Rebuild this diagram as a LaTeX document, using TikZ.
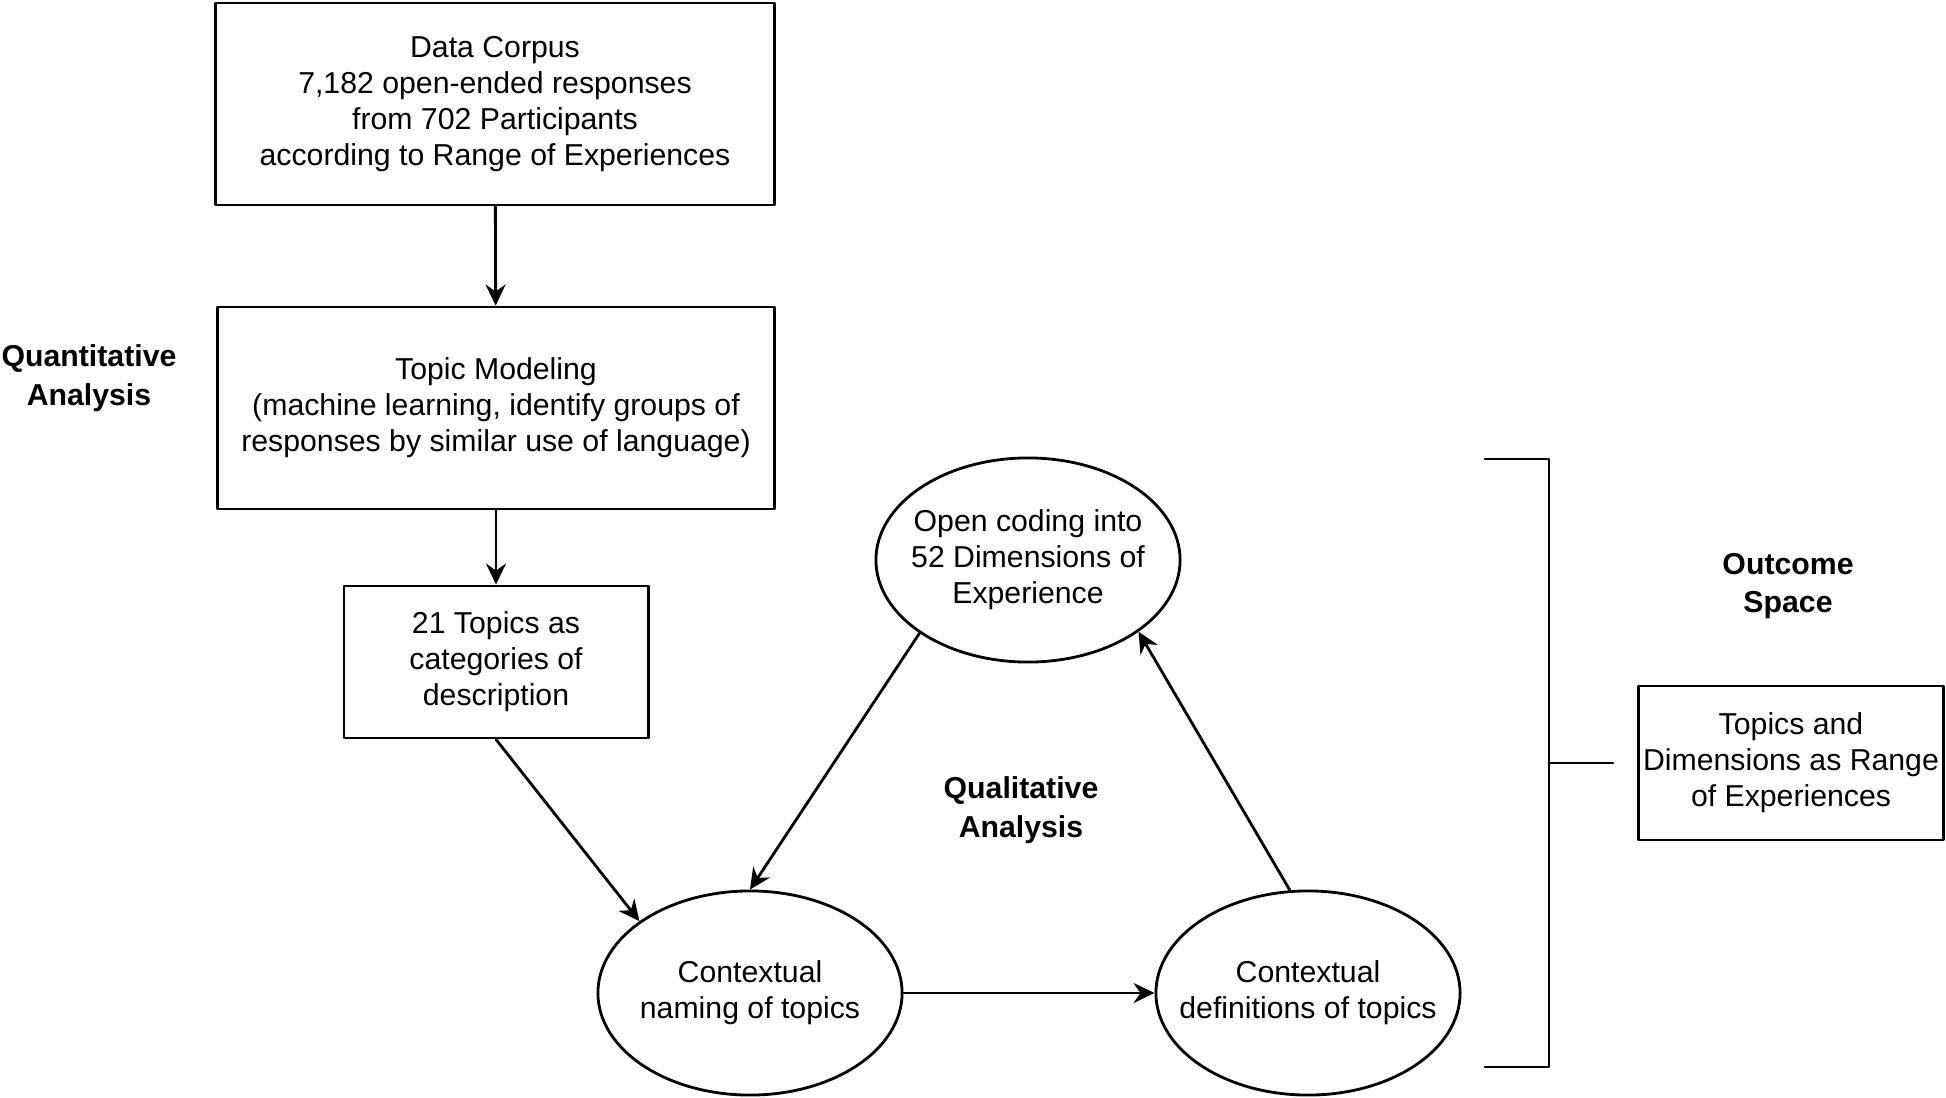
\documentclass[tikz,border=0pt]{standalone}
\usepackage{fontspec}
\setmainfont{Liberation Sans}
\usetikzlibrary{arrows.meta,shapes.geometric}

\begin{document}
\begin{tikzpicture}[line cap=round,line join=round,>={Stealth[length=2.1mm,width=2mm,inset=0.7mm]},x=0.01cm,y=-0.01cm,
		font=\fontsize{8.6}{10.2}\selectfont,
		boxnode/.style={draw,line width=0.8pt,align=center,inner sep=0pt},
		ovalnode/.style={draw,ellipse,line width=0.8pt,align=center,inner xsep=-0.35cm,inner ysep=0pt,minimum width=3.04cm,minimum height=2.04cm},
		headnode/.style={align=center,font=\fontsize{8.6}{11}\selectfont\bfseries},
		flow/.style={->,line width=0.8pt}]
	\useasboundingbox (0,0) rectangle (1946,1097);
		\node[boxnode,minimum width=5.58cm,minimum height=2.02cm] (corpus) at (495,104) {Data Corpus\\7,182 open-ended responses\\from 702 Participants\\according to Range of Experiences};
		\node[boxnode,minimum width=5.56cm,minimum height=2.02cm] (topicmod) at (496,408) {Topic Modeling\\(machine learning, identify groups of\\responses by similar use of language)};
		\node[boxnode,minimum width=3.04cm,minimum height=1.52cm] (topics) at (496,662) {21 Topics as\\categories of\\description};
		\node[ovalnode] (opencode) at (1028,560) {Open coding into\\52 Dimensions of\\Experience};
		\node[ovalnode] (naming) at (750,993) {Contextual\\naming of topics};
		\node[ovalnode] (defs) at (1308,993) {Contextual\\definitions of topics};
		\node[boxnode,minimum width=3.05cm,minimum height=1.54cm] (range) at (1791,763) {Topics and\\Dimensions as Range\\of Experiences};
		\node[headnode] (quant) at (89,378) {Quantitative\\Analysis};
		\node[headnode] (qual) at (1021,810) {Qualitative\\Analysis};
		\node[headnode] (outcome) at (1788,586) {Outcome\\Space};
	\draw[flow] (corpus) -- (topicmod);
	\draw[flow] (topicmod) -- (topics);
	\draw[flow] (topics.south) -- (naming.147);
	\draw[flow] (opencode.214) -- (naming.north);
	\draw[flow] (naming.east) -- (defs.west);
	\draw[flow] (defs.100) -- (opencode.-33);
		\coordinate (brtop) at (1485,459);
		\coordinate (brbot) at (1485,1067);
		\coordinate (brmid) at (1549,763);
		\coordinate (brtick) at (1613,763);
	\draw[line width=0.8pt] (brtop) -| (brmid) |- (brbot);
	\draw[line width=0.8pt] (brmid) -- (brtick);
\end{tikzpicture}
\end{document}
